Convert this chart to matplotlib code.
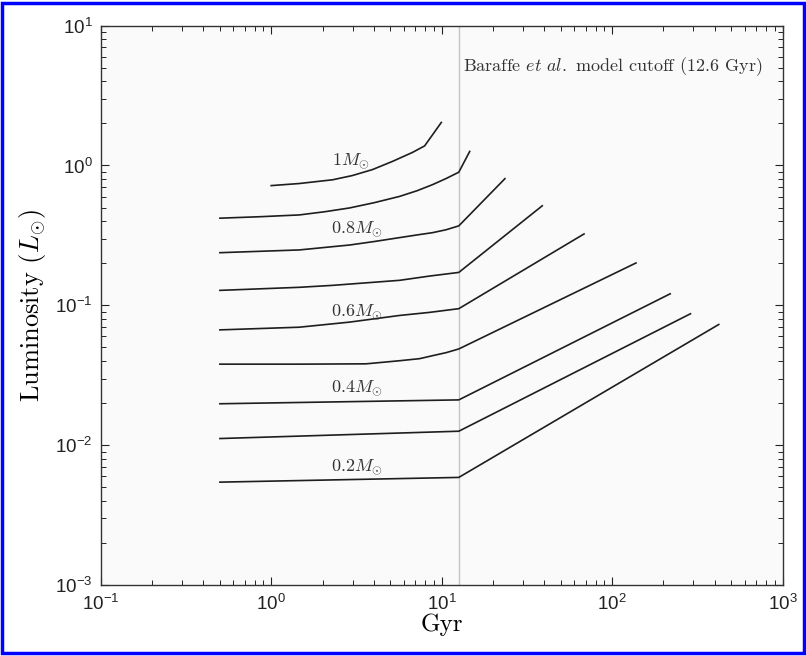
"""Luminosity evolution of low-mass stars (log-log), with the Baraffe model cutoff."""

import matplotlib
import matplotlib.pyplot as plt
from matplotlib.patches import Rectangle
from matplotlib.ticker import LogLocator, NullFormatter

matplotlib.use("Agg")

plt.rcParams["font.family"] = ["Liberation Sans", "DejaVu Sans"]
plt.rcParams["mathtext.fontset"] = "dejavusans"

# mass tracks: age (Gyr) and luminosity (L_sun)
AGE_100 = [1.0, 1.46, 2.29, 2.99, 3.93, 5.15, 6.74, 7.94, 9.95]
LUM_100 = [0.718, 0.743, 0.79, 0.847, 0.935, 1.07, 1.24, 1.38, 2.03]

AGE_090 = [0.5, 0.85, 1.46, 2.06, 2.88, 4.02, 5.66, 7.2, 8.85, 10.6, 12.6, 14.6]
LUM_090 = [0.42, 0.43, 0.443, 0.467, 0.497, 0.542, 0.601, 0.661, 0.73, 0.806, 0.895, 1.26]

AGE_080 = [0.5, 1.46, 2.88, 4.02, 5.66, 7.2, 8.85, 10.6, 12.6, 23.5]
LUM_080 = [0.238, 0.249, 0.270, 0.286, 0.305, 0.319, 0.331, 0.347, 0.370, 0.805]

AGE_070 = [0.5, 1.46, 2.29, 5.66, 8.49, 12.6, 38.9]
LUM_070 = [0.128, 0.1346, 0.139, 0.151, 0.162, 0.172, 0.515]

AGE_060 = [0.5, 1.46, 2.88, 5.66, 8.49, 12.6, 68.4]
LUM_060 = [0.0668, 0.0698, 0.0759, 0.0847, 0.0891, 0.0947, 0.324]

AGE_050 = [0.5, 1.46, 3.6, 5.66, 7.43, 8.85, 10.6, 12.6, 138]
LUM_050 = [0.0380, 0.0380, 0.0382, 0.0402, 0.0416, 0.0437, 0.0459, 0.0488, 0.201]

AGE_040 = [0.5, 12.6, 219]
LUM_040 = [0.0198, 0.0211, 0.121]

AGE_030 = [0.5, 12.6, 288]
LUM_030 = [0.01117, 0.0126, 0.0871]

AGE_020 = [0.5, 12.6, 422]
LUM_020 = [0.00545, 0.00589, 0.0730]

TRACKS = [
    (AGE_100, LUM_100), (AGE_090, LUM_090), (AGE_080, LUM_080),
    (AGE_070, LUM_070), (AGE_060, LUM_060), (AGE_050, LUM_050),
    (AGE_040, LUM_040), (AGE_030, LUM_030), (AGE_020, LUM_020),
]

MASS_LABELS = [r"$1M_{\odot}$", r"$0.8M_{\odot}$", r"$0.6M_{\odot}$", r"$0.4M_{\odot}$", r"$0.2M_{\odot}$"]
LABEL_AGE = [2.95, 3.2, 3.2, 3.2, 3.2]
LABEL_LUM = [1.07, 0.347, 0.0895, 0.0256, 0.00695]

CUTOFF_GYR = 12.6
CUTOFF_TEXT = r"Baraffe $\mathit{et\ al.}$ model cutoff (12.6 Gyr)"


fig = plt.figure(figsize=(8.06, 6.56), dpi=100)
fig.patch.set_facecolor("white")
ax = fig.add_axes([0.125, 0.108, 0.846, 0.853])
ax.set_facecolor("#fafafa")

ax.axvline(CUTOFF_GYR, color="#c4c4c4", linewidth=1.0, zorder=1)
for ages, lums in TRACKS:
    ax.plot(ages, lums, color="#1e1e1e", linewidth=1.2, zorder=2)

for text, x, y in zip(MASS_LABELS, LABEL_AGE, LABEL_LUM):
    ax.text(x, y, text, ha="center", va="center", fontsize=13,
            color="#333333", math_fontfamily="cm")

ax.text(13.4, 5.1, CUTOFF_TEXT, ha="left", va="center", fontsize=13,
        family="cmr10", math_fontfamily="cm", color="#333333")

ax.set_xscale("log")
ax.set_yscale("log")
ax.set_xlim(0.1, 1000)
ax.set_ylim(1e-3, 10)
ax.xaxis.set_major_locator(LogLocator(base=10, numticks=10))
ax.yaxis.set_major_locator(LogLocator(base=10, numticks=10))
ax.xaxis.set_minor_locator(LogLocator(base=10, subs=range(2, 10), numticks=20))
ax.yaxis.set_minor_locator(LogLocator(base=10, subs=range(2, 10), numticks=20))
ax.xaxis.set_minor_formatter(NullFormatter())
ax.yaxis.set_minor_formatter(NullFormatter())

ax.tick_params(which="both", direction="in", top=True, right=True, colors="#222222")
ax.tick_params(which="major", length=6, width=0.8, labelsize=13.5, pad=6)
ax.tick_params(which="minor", length=3.5, width=0.7)
for spine in ax.spines.values():
    spine.set_color("#333333")
    spine.set_linewidth(1.0)

ax.set_xlabel("Gyr", family="cmr10", fontsize=18, labelpad=0)
ax.set_ylabel(r"Luminosity ($L_{\odot}$)", family="cmr10", fontsize=19,
              math_fontfamily="cm", labelpad=5)

# blue frame around the whole figure
fig.patches.append(Rectangle((0.003, 0.004), 0.994, 0.992, transform=fig.transFigure,
                             fill=False, edgecolor="#0000ff", linewidth=2.5))

fig.savefig("out.png", dpi=100)
